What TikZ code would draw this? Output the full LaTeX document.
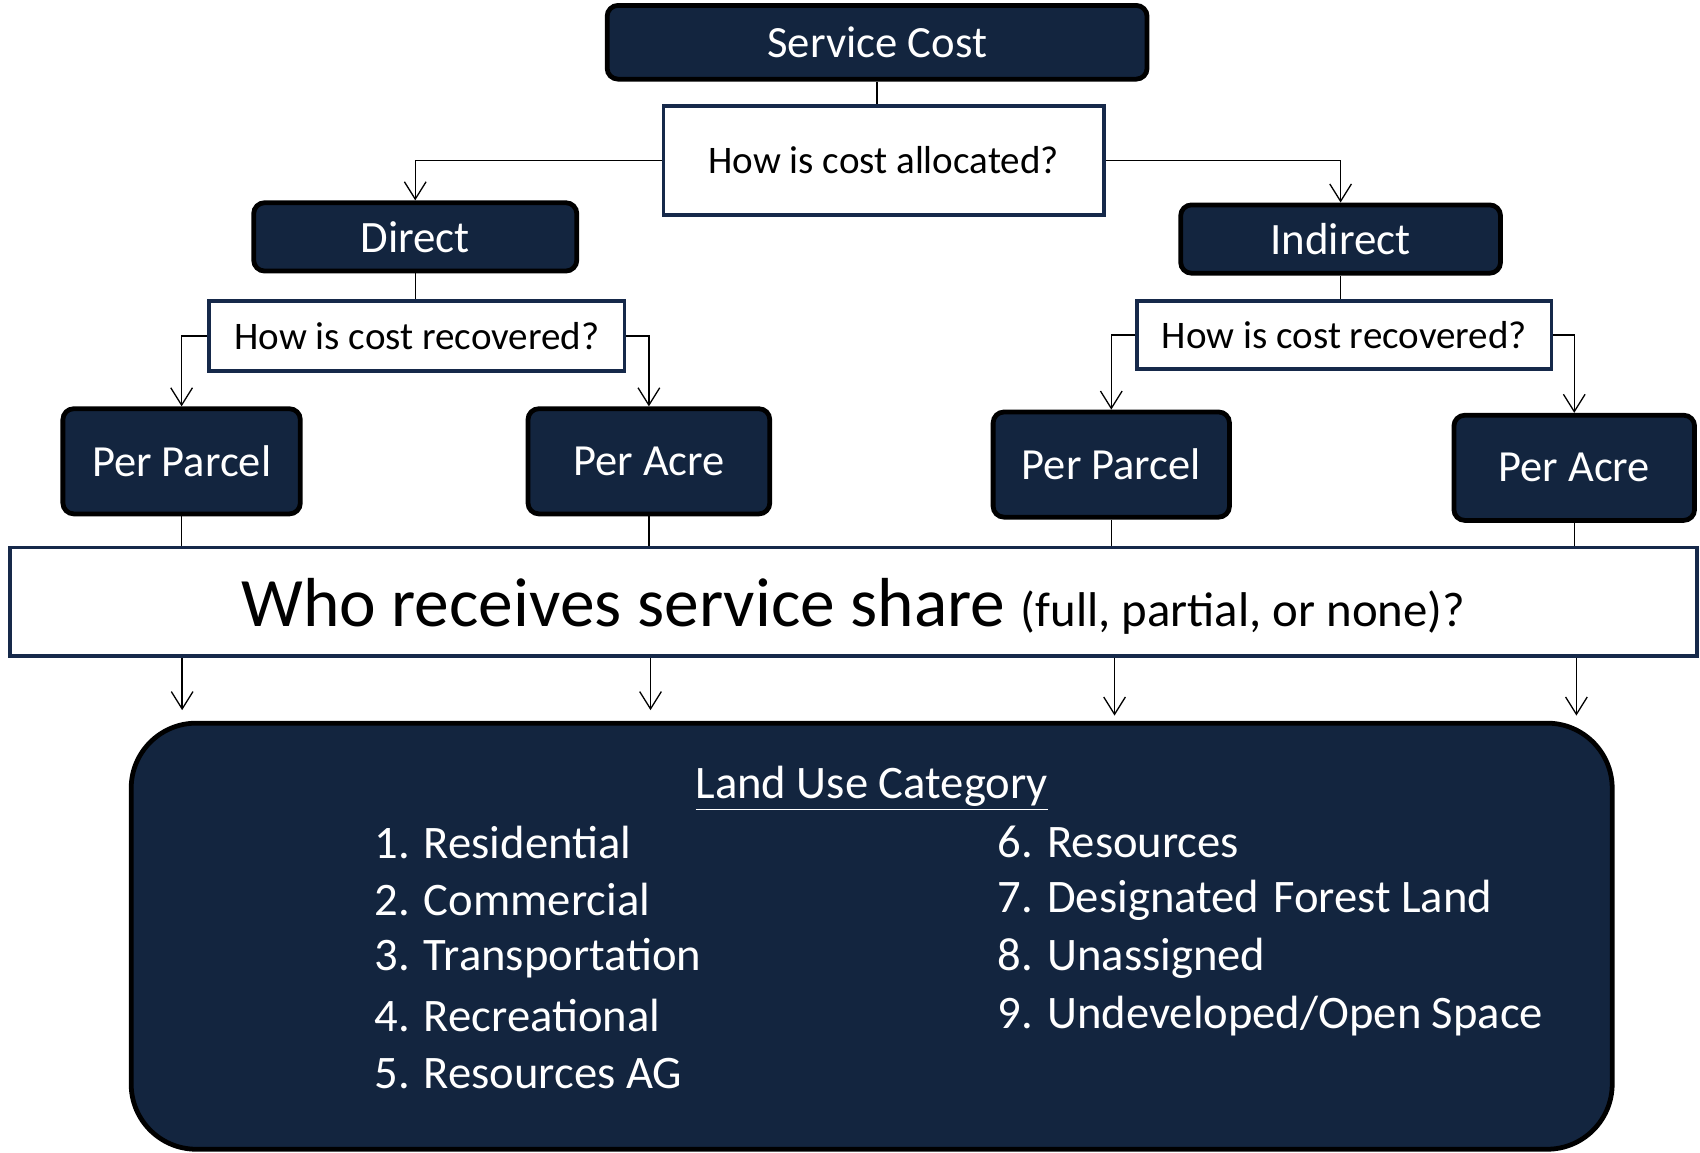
\documentclass[tikz,border=0pt]{standalone}
\usepackage{fontspec}
\setmainfont{Carlito}
\usetikzlibrary{arrows.meta}
\definecolor{navy}{HTML}{13253F}
\definecolor{navyline}{HTML}{16294A}
\begin{document}
\begin{tikzpicture}[x=0.5pt,y=-0.5pt,
  darkbox/.style={draw=black, line width=2.2pt, fill=navy, rounded corners=5pt, text=white, inner sep=0pt},
  qbox/.style={draw=navyline, line width=1.8pt, fill=white, text=black, inner sep=0pt},
  conn/.style={line width=0.6pt, black},
  arr/.style={conn, -{Straight Barb[length=8pt, width=10pt, line width=0.6pt]}},
  item/.style={anchor=west, text=white, font=\fontsize{21.5}{25}\selectfont, inner sep=0pt}
]
\useasboundingbox (0,0) rectangle (1568,1063);

\node[darkbox, minimum width=249pt, minimum height=34pt, font=\fontsize{20.6}{24}\selectfont] (sc) at (809,39) {Service Cost};
\node[qbox, minimum width=203pt, minimum height=50pt, font=\fontsize{18}{22}\selectfont] (alloc) at (815,148) {How is cost allocated?};

\node[darkbox, minimum width=149pt, minimum height=31.5pt, font=\fontsize{20.7}{24}\selectfont] (direct) at (383,218.5) {Direct};
\node[darkbox, minimum width=147.5pt, minimum height=31.5pt, font=\fontsize{20.7}{24}\selectfont] (indirect) at (1236.5,220.5) {Indirect};

\node[qbox, minimum width=191.5pt, minimum height=32pt, font=\fontsize{18}{22}\selectfont] (recL) at (384.5,310) {How is cost recovered?};
\node[qbox, minimum width=191pt, minimum height=31pt, font=\fontsize{18}{22}\selectfont] (recR) at (1240,309) {How is cost recovered?};

\node[darkbox, minimum width=109.5pt, minimum height=48.5pt, font=\fontsize{20.5}{24}\selectfont] (ppL) at (167.5,425.5) {Per Parcel};
\node[darkbox, minimum width=111.5pt, minimum height=48.5pt, font=\fontsize{20.5}{24}\selectfont] (paL) at (598.5,425.5) {Per Acre};
\node[darkbox, minimum width=109pt, minimum height=48.5pt, font=\fontsize{20.5}{24}\selectfont] (ppR) at (1025,428.5) {Per Parcel};
\node[darkbox, minimum width=111pt, minimum height=48.5pt, font=\fontsize{20.5}{24}\selectfont] (paR) at (1452,431.5) {Per Acre};

\node[qbox, minimum width=778pt, minimum height=50pt] (who) at (787,555) {};
\node[anchor=base, inner sep=0pt] (whotext) at (787,578) {\fontsize{32}{38}\selectfont Who receives service share \fontsize{22.5}{27}\selectfont(full, partial, or none)?};

\node[darkbox, rounded corners=30pt, minimum width=683pt, minimum height=196.5pt] (land) at (804,863.5) {};

\node[text=white, font=\fontsize{21.5}{25}\selectfont, inner sep=0pt] (title) at (804,727) {\underline{Land Use Category}};
\node[item] (i1) at (345,777) {1. Residential};
\node[item] (i2) at (345,830) {2. Commercial};
\node[item] (i3) at (345,884) {3. Transportation};
\node[item] (i4) at (345,937) {4. Recreational};
\node[item] (i5) at (345,990) {5. Resources AG};
\node[item] (i6) at (920,777) {6. Resources};
\node[item] (i7) at (920,830) {7. Designated\hspace{0.3em}Forest Land};
\node[item] (i8) at (920,884) {8. Unassigned};
\node[item] (i9) at (920,937) {9. Undeveloped/Open Space};

% connectors
\draw[conn] (sc.south) -- (sc.south |- alloc.north);
\draw[arr] (alloc.west) -| (direct.north);
\draw[arr] (alloc.east) -| (indirect.north);
\draw[conn] (direct.south) -- (direct.south |- recL.north);
\draw[conn] (indirect.south) -- (indirect.south |- recR.north);
\draw[arr] (recL.west) -| (ppL.north);
\draw[arr] (recL.east) -| (paL.north);
\draw[arr] (recR.west) -| (ppR.north);
\draw[arr] (recR.east) -| (paR.north);
\draw[conn] (ppL.south) -- (ppL.south |- who.north);
\draw[conn] (paL.south) -- (paL.south |- who.north);
\draw[conn] (ppR.south) -- (ppR.south |- who.north);
\draw[conn] (paR.south) -- (paR.south |- who.north);

\coordinate (e1) at (168,655);
\coordinate (e2) at (600,655);
\coordinate (e3) at (1028,660);
\coordinate (e4) at (1454,660);
\draw[arr] (who.south -| e1) -- (e1);
\draw[arr] (who.south -| e2) -- (e2);
\draw[arr] (who.south -| e3) -- (e3);
\draw[arr] (who.south -| e4) -- (e4);
\end{tikzpicture}
\end{document}
